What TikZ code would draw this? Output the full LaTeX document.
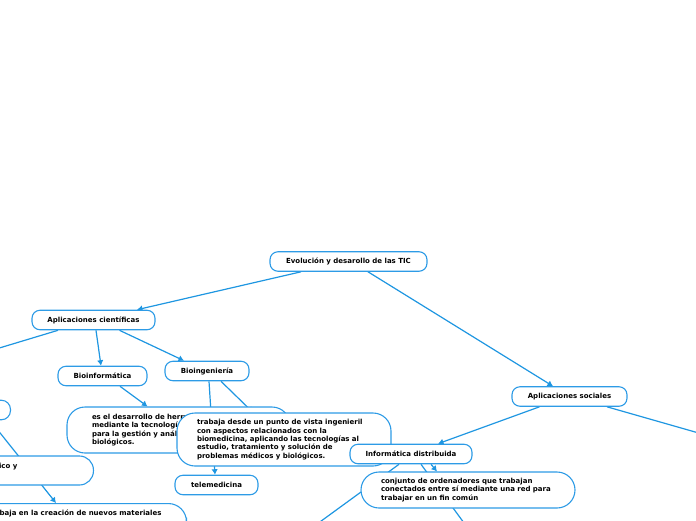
\documentclass[tikz,border=0pt]{standalone}
\usepackage{fontspec}
\setmainfont{DejaVu Sans}
\usetikzlibrary{arrows.meta,calc}
\pgfdeclarelayer{bg}
\pgfsetlayers{bg,main}
\definecolor{bd}{RGB}{45,155,230}
\definecolor{ln}{RGB}{30,150,225}
\begin{document}
\begin{tikzpicture}[x=1pt,y=-1pt,
  base/.style={draw=bd,line width=1.1pt,fill=white,font=\fontsize{7}{8.3}\selectfont\bfseries},
  topic/.style={base,rounded corners=8pt,inner sep=0pt,minimum height=19.5pt},
  desc/.style={base,rounded corners=18pt,align=left,inner ysep=0pt},
  conn/.style={draw=ln,line width=1.2pt,-{Latex[length=5.5pt,width=6.5pt]}}]
\useasboundingbox (0,0) rectangle (696,520);
\clip (0,0) rectangle (696,520);

\node[topic,minimum width=157pt] (evo) at (348.5,261.5) {Evolución y desarollo de las TIC};
\node[topic,minimum width=123pt] (cien) at (93.5,320) {Aplicaciones científicas};
\node[topic,minimum width=89pt] (binf) at (102.5,376) {Bioinformática};
\node[topic,minimum width=84pt] (bing) at (207,371) {Bioingeniería};
\node[topic,minimum width=115pt] (soc) at (569.5,396.5) {Aplicaciones sociales};
\node[topic,minimum width=83pt] (tele) at (216.5,485) {telemedicina};
\node[topic,rounded corners=9pt,minimum width=60pt,anchor=east] (lft) at (11,410) {};
\node[desc,rounded corners=14pt,inner xsep=76pt,text height=5.3pt,text depth=8.6pt,minimum height=29pt,anchor=east] (ico) at (94,470.5) {metálico y};
\node[desc,inner xsep=25pt,text height=12pt,text depth=20pt,anchor=north east] (mat) at (187,503) {trabaja en la creación de nuevos materiales};
\node[desc,text width=173pt,inner xsep=25pt,minimum height=46pt] (binfd) at (178.5,430) {es el desarrollo de herramientas\\ mediante la tecnología informática\\ para la gestión y análisis de datos\\ biológicos.};
\node[desc,text width=174pt,inner xsep=20pt,minimum height=53pt] (bingd) at (284,439.5) {trabaja desde un punto de vista ingenieril\\ con aspectos relacionados con la\\ biomedicina, aplicando las tecnologías al\\ estudio, tratamiento y solución de\\ problemas médicos y biológicos.};
\node[topic,minimum width=122pt] (idist) at (411,454) {Informática distribuida};
\node[desc,text width=174pt,inner xsep=20pt,minimum height=36pt] (idd) at (468,490) {conjunto de ordenadores que trabajan\\ conectados entre sí mediante una red para\\ trabajar en un fin común};

\coordinate (offL) at (-120,384);
\coordinate (offR) at (800,462);
\coordinate (offBR) at (500,572);
\coordinate (offBL) at (280,551);

\begin{pgfonlayer}{bg}
\draw[conn] ([xshift=-47.5pt]evo.south) -- ([xshift=43.5pt]cien.north);
\draw[conn] ([xshift=19.5pt]evo.south) -- ([xshift=-16.5pt]soc.north);
\draw[conn] ([xshift=-35.5pt]cien.south) -- (offL);
\draw[conn] ([xshift=2.5pt]cien.south) -- ([xshift=-1.5pt]binf.north);
\draw[conn] ([xshift=26pt]cien.south) -- ([xshift=-23pt]bing.north);
\draw[conn] ([xshift=17.5pt]binf.south) -- ([xshift=-31pt]binfd.north);
\draw[conn] ([xshift=2pt]bing.south) -- ([xshift=-1.5pt]tele.north);
\draw[conn] ([xshift=14pt]bing.south) -- ([xshift=-31pt]bingd.north);
\draw[conn] ([xshift=-30pt]soc.south) -- ([xshift=27pt]idist.north);
\draw[conn] ([xshift=37.5pt]soc.south) -- (offR);
\draw[conn] ([xshift=-12pt]idist.south) -- (offBL);
\draw[conn] ([xshift=10pt]idist.south) -- (offBR);
\draw[conn] ([xshift=20pt]idist.south) -- ([xshift=-31pt]idd.north);
\draw[conn] ([xshift=-21pt]lft.south east) -- ([xshift=-131pt]mat.north east);
\end{pgfonlayer}
\end{tikzpicture}
\end{document}
